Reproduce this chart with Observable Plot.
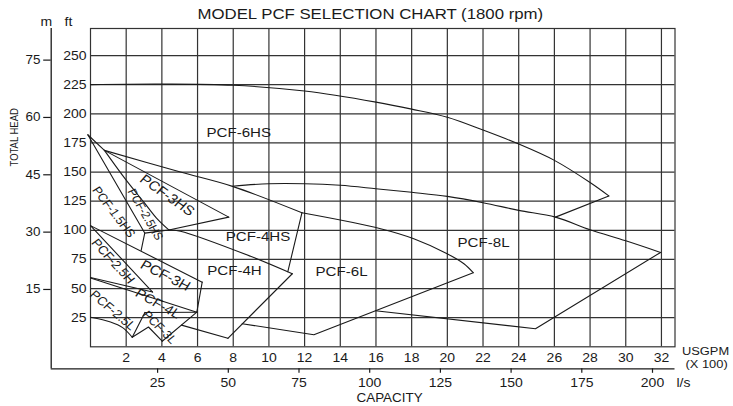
<!DOCTYPE html>
<html>
<head>
<meta charset="utf-8">
<script src="https://cdn.jsdelivr.net/npm/d3@7"></script>
<script src="https://cdn.jsdelivr.net/npm/@observablehq/plot@0.6"></script>
<style>
  html, body { margin: 0; padding: 0; background: #fff; }
  #chart { width: 733px; height: 406px; overflow: hidden; }
</style>
</head>
<body>
<div id="chart"></div>
<script>
// ---------- tick values ----------
const usgpmTicks = [2, 4, 6, 8, 10, 12, 14, 16, 18, 20, 22, 24, 26, 28, 30, 32]; // USGPM x 100
const ftTicks = [25, 50, 75, 100, 125, 150, 175, 200, 225, 250];
const mTicks = [15, 30, 45, 60, 75];
const lsTicks = [25, 50, 75, 100, 125, 150, 175, 200];
const FT_PER_M = 3.28084;
const USGPM100_PER_LS = 0.158503;

// ---------- boundary curves [USGPM x100, ft] ----------
const pcf6HS_top = [[0,225],[4,225.5],[8,224.5],[12,219.5],[16,210],[18,204],[20,197],[22,186],[24,174],[26,160],[28,141],[29.05,129.5]];
const pcf6HS_tip = [[29.05,129.5],[26.06,111.3]];
const pcf8L_top = [[7.96,137.8],[10,140],[12,140],[14,138.6],[16,135.7],[18,132.6],[20,129.1],[22,123.7],[24,117.1],[26.06,111.3],[28,100.5],[30,91],[31.95,81]];
const pcf8L_bottom = [[31.95,81],[24.94,15.5],[15.97,30.9]];
const pcf6HS_bottom = [[0.78,168.6],[5.04,150],[7.96,137.7],[11.85,115]];
const pcf6L_top = [[11.85,115],[16.26,101.4],[18.12,92.8],[19.99,79.9],[20.93,71.3],[21.45,63.6]];
const pcf6L_bottom = [[21.45,63.6],[12.52,10.3],[8.5,19.8]];
const pcf4HS_right = [[11.85,115],[11.06,64.5]];
const pcf4H_top = [[4.39,100.3],[5.04,99.2],[8.97,77.7],[11.31,62.7]];
const pcf4H_right = [[11.31,62.7],[7.7,7.3]];
const pcf4H_bottom = [[7.7,7.3],[5.1,18.6]];
const pcf3HS_top = [[0.78,168.6],[7.75,111.3]];
const pcf3HS_bottom = [[7.75,111.3],[4.39,100.3]];
const pcf25HS_right = [[0.78,168.6],[2.0,143],[3.0,124],[3.7,110.5],[4.39,100.3]];
const pcf15HS_right = [[-0.15,182],[3.04,97.6]];
const pcfApex = [[-0.15,182],[0.78,168.6]];
const pcf15HS_bottom = [[2.84,82.7],[3.04,97.6],[4.39,100.3]];
const pcf3H_top = [[0,104],[6.26,55.5]];
const pcf3H_right = [[6.26,55.5],[5.96,29.7]];
const pcf25H_right = [[0,104],[3.48,47]];
const pcf25H_bottom = [[0,59.5],[3.48,47]];
const pcf4L_top = [[0,59],[5.96,29.7]];
const pcf4L_bottom = [[3.05,29.5],[5.96,29.7]];
const pcf25L_bottom = [[0,25.4],[1.12,21.3],[1.8,16.5],[2.34,8.2]];
const pcf25L_right = [[2.34,8.2],[3.05,29.5]];
const pcf3L_left = [[2.34,8.2],[3.25,17],[4.02,4.8]];
const pcf3L_right = [[4.02,4.8],[5.96,29.7]];

// ---------- model labels ----------
const modelNames = ["PCF-6HS","PCF-8L","PCF-4HS","PCF-4H","PCF-6L","PCF-3HS","PCF-2.5HS","PCF-1.5HS","PCF-2.5H","PCF-3H","PCF-4L","PCF-2.5L","PCF-3L"];
const modelFlow = [8.31, 22.03, 9.39, 8.07, 14.07, 4.30, 3.07, 1.30, 1.26, 4.20, 3.78, 1.25, 3.87];
const modelHead = [183.4, 89, 94.1, 65.5, 64.4, 130, 113.5, 115.6, 73.4, 61.2, 37, 31.2, 16.8];

// label styling (angle in degrees, font size px)
const labelStyle = {
  "PCF-6HS": [0, 13.5], "PCF-8L": [0, 13.5], "PCF-4HS": [0, 13.5], "PCF-4H": [0, 13.5], "PCF-6L": [0, 13.5],
  "PCF-3HS": [38, 13.5], "PCF-2.5HS": [62.6, 11], "PCF-1.5HS": [55.6, 11.5], "PCF-2.5H": [50.8, 12],
  "PCF-3H": [29.2, 13.5], "PCF-4L": [31.8, 13], "PCF-2.5L": [43.5, 12], "PCF-3L": [48.2, 11.5]
};

// ---------- layout ----------
const W = 733, H = 406, mL = 90, mR = 58.5, mT = 28, mB = 59.7;
const xMax = 32.76, yMax = 273.2;
const kx = (W - mL - mR) / xMax, ky = (H - mT - mB) / yMax;
const xOuter = (50.7 - mL) / kx;          // left outer (m) axis position
const yOuter = -(368.3 - (H - mB)) / ky;   // bottom outer (l/s) axis position

const smooth = [pcf6HS_top, pcf8L_top, pcf6HS_bottom, pcf6L_top, pcf25HS_right, pcf4H_top, pcf25L_bottom];
const straight = [pcf6HS_tip, pcf8L_bottom, pcf6L_bottom, pcf4HS_right, pcf4H_right, pcf4H_bottom, pcf3HS_top,
  pcf3HS_bottom, pcf15HS_right, pcfApex, pcf15HS_bottom, pcf3H_top, pcf3H_right, pcf25H_right, pcf25H_bottom,
  pcf4L_top, pcf4L_bottom, pcf25L_right, pcf3L_left, pcf3L_right];

const labels = modelNames.map((n, i) => ({name: n, x: modelFlow[i], y: modelHead[i]}));

const ink = "#1a1a1a", gridInk = "#333";
const lineOpts = {x: d => d[0], y: d => d[1], stroke: ink, strokeWidth: 1.1};
const txt = {fill: ink, lineAnchor: "middle"};

const marks = [
  Plot.ruleX(usgpmTicks, {x: d => d, stroke: gridInk, strokeWidth: 1.2}),
  Plot.ruleY(ftTicks, {y: d => d, stroke: gridInk, strokeWidth: 1.2}),
  Plot.frame({stroke: gridInk, strokeWidth: 1.2}),
  ...smooth.map(c => Plot.line(c, {...lineOpts, curve: "catmull-rom"})),
  ...straight.map(c => Plot.line(c, lineOpts)),
  // model labels
  ...labels.map(l => Plot.text([l], {...txt, x: "x", y: "y", text: "name", rotate: labelStyle[l.name][0],
     fontSize: labelStyle[l.name][1]})),
  // inner ft axis labels
  Plot.text(ftTicks, {...txt, y: d => d, text: d => String(d), frameAnchor: "left", textAnchor: "end", dx: -4, fontSize: 12.5}),
  // inner USGPM labels
  Plot.text(usgpmTicks, {...txt, x: d => d, text: d => String(d), frameAnchor: "bottom", dy: 11.5, fontSize: 12.5}),
  // outer m axis
  Plot.ruleX([xOuter], {x: d => d, y1: () => yOuter, y2: () => yMax, stroke: ink, strokeWidth: 1.3}),
  Plot.ruleY(mTicks, {y: d => d * FT_PER_M, x1: () => xOuter - 7.5 / kx, x2: () => xOuter, stroke: ink, strokeWidth: 1.2}),
  Plot.text(mTicks, {...txt, y: d => d * FT_PER_M, text: d => String(d), frameAnchor: "left", textAnchor: "end", dx: 40 - mL, fontSize: 12}),
  // outer l/s axis
  Plot.ruleY([yOuter], {y: d => d, x1: () => xOuter, x2: () => xMax, stroke: ink, strokeWidth: 1.3}),
  Plot.ruleX(lsTicks, {x: d => d * USGPM100_PER_LS, y1: () => yOuter, y2: () => yOuter - 4.5 / ky, dx: -3.6, stroke: ink, strokeWidth: 1.2}),
  Plot.text(lsTicks, {...txt, x: d => d * USGPM100_PER_LS, text: d => String(d), frameAnchor: "bottom", dy: 36.5, dx: -3.6, fontSize: 12.5}),
  // titles
  Plot.text(["MODEL PCF SELECTION CHART (1800 rpm)"], {...txt, frameAnchor: "top-left", dx: 197 - mL, dy: 13.5 - mT, textAnchor: "start", fontSize: 15}),
  Plot.text(["m"], {...txt, frameAnchor: "top-left", dx: 40 - mL, dy: 21.5 - mT, fontSize: 12.5}),
  Plot.text(["ft"], {...txt, frameAnchor: "top-left", dx: 64 - mL, dy: 21.5 - mT, fontSize: 12.5}),
  Plot.text(["TOTAL HEAD"], {...txt, frameAnchor: "top-left", dx: 14.2 - mL, dy: 166 - mT, rotate: -90, fontSize: 9.5}),
  Plot.text(["USGPM"], {...txt, frameAnchor: "top-left", dx: 681.5 - mL, dy: 350.5 - mT, textAnchor: "start", fontSize: 11.5}),
  Plot.text(["(X 100)"], {...txt, frameAnchor: "top-left", dx: 685 - mL, dy: 363.8 - mT, textAnchor: "start", fontSize: 11.5}),
  Plot.text(["l/s"], {...txt, frameAnchor: "top-left", dx: 676 - mL, dy: 382.5 - mT, textAnchor: "start", fontSize: 12.5}),
  Plot.text(["CAPACITY"], {...txt, frameAnchor: "top-left", dx: 356 - mL, dy: 398 - mT, fontSize: 12})
];

const svg = Plot.plot({
  width: W, height: H,
  marginLeft: mL, marginRight: mR, marginTop: mT, marginBottom: mB,
  x: {domain: [0, xMax], axis: null},
  y: {domain: [0, yMax], axis: null},
  style: {fontFamily: "'Liberation Sans', Arial, Helvetica, sans-serif", background: "#fff", color: ink, overflow: "visible"},
  marks
});

// the reference lettering is horizontally stretched: widen every text about its anchor
const S = 1.12;
svg.querySelectorAll("text").forEach(t => {
  const x = +(t.getAttribute("x") || 0), y = +(t.getAttribute("y") || 0);
  let tr = t.getAttribute("transform") || "";
  const m = tr.match(/^\s*translate\([^)]*\)/);
  const head = m ? m[0] : "";
  const tail = m ? tr.slice(m[0].length) : tr;
  let extra = "";
  if (x || y) { extra = ` translate(${x},${y})`; t.setAttribute("x", 0); t.setAttribute("y", 0); }
  t.setAttribute("transform", `${head}${extra} scale(${S},1)${tail}`.trim());
});

document.getElementById("chart").appendChild(svg);
</script>
</body>
</html>
